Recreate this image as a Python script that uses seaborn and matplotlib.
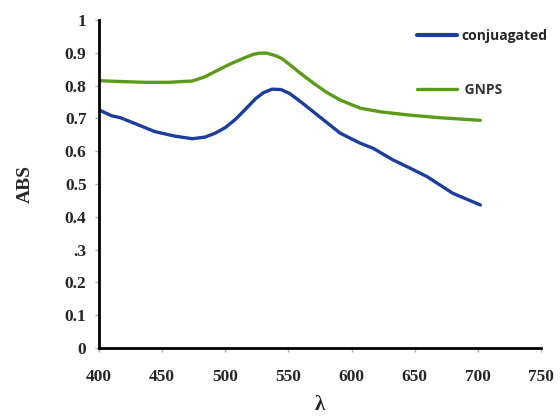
import pandas as pd
import seaborn as sns
import matplotlib.pyplot as plt

# Spectra
wl_conj = [400, 410, 417, 430, 444, 460, 474, 484, 492, 500, 508, 516, 524, 530, 537,
           544, 551, 560, 573, 591, 607, 617, 633, 646, 660, 680, 702]
abs_conj = [0.726, 0.708, 0.702, 0.682, 0.66, 0.646, 0.638, 0.643, 0.655, 0.672, 0.697,
            0.728, 0.76, 0.778, 0.789, 0.788, 0.776, 0.75, 0.71, 0.655, 0.624, 0.609,
            0.573, 0.549, 0.522, 0.472, 0.436]

wl_gnps = [400, 420, 436, 455, 474, 484, 492, 504, 516, 522, 527, 533, 540, 545, 551,
           560, 570, 580, 591, 600, 607, 623, 646, 670, 702]
abs_gnps = [0.815, 0.812, 0.81, 0.81, 0.814, 0.827, 0.843, 0.866, 0.886, 0.895, 0.899,
            0.899, 0.891, 0.882, 0.864, 0.836, 0.807, 0.78, 0.756, 0.742, 0.731, 0.72,
            0.71, 0.702, 0.694]

x_ticks = [400, 450, 500, 550, 600, 650, 700, 750]
y_ticks = [0, 0.1, 0.2, 0.3, 0.4, 0.5, 0.6, 0.7, 0.8, 0.9, 1]
y_ticklabels = ['0', '0.1', '0.2', '.3', '0.4', '0.5', '0.6', '0.7', '0.8', '0.9', '1']

df = pd.concat([
    pd.DataFrame({'wl': wl_conj, 'abs': abs_conj, 'serie': 'conjuagated'}),
    pd.DataFrame({'wl': wl_gnps, 'abs': abs_gnps, 'serie': ' GNPS'}),
])

sns.set_style('ticks')
plt.rcParams['font.family'] = ['Liberation Serif', 'DejaVu Serif']

fig = plt.figure(figsize=(5.6, 4.18), dpi=100)
ax = fig.add_axes([99 / 560, 1 - 348 / 418, 442 / 560, 328 / 418])

sns.lineplot(data=df, x='wl', y='abs', hue='serie', sort=False,
             palette={'conjuagated': '#1c3c9e', ' GNPS': '#5a9c18'},
             linewidth=2.4, ax=ax, legend=False)

ax.set_xlim(400, 750)
ax.set_ylim(0, 1)
ax.set_xticks(x_ticks)
ax.set_yticks(y_ticks)
ax.set_yticklabels(y_ticklabels)
for lbl in ax.get_xticklabels() + ax.get_yticklabels():
    lbl.set_fontweight('bold')
    lbl.set_fontsize(12.5)
ax.tick_params(axis='both', length=3, width=1, color='#b0b0b0')
ax.tick_params(axis='x', pad=12)
ax.tick_params(axis='y', pad=6)

sns.despine(ax=ax)
ax.spines['left'].set_linewidth(2)
ax.spines['bottom'].set_linewidth(2)
ax.spines['left'].set_color('black')
ax.spines['bottom'].set_color('black')

ax.set_xlabel('λ', fontsize=15, fontweight='bold', labelpad=7)
ax.set_ylabel('ABS', fontsize=14, fontweight='bold', labelpad=22)

# legend placed outside the axes, top-right
h1, = ax.plot([], [], color='#1c3c9e', linewidth=3)
h2, = ax.plot([], [], color='#5a9c18', linewidth=2.4)
leg = fig.legend([h1, h2], ['conjuagated', ' GNPS'], loc='upper left',
                 bbox_to_anchor=(404 / 560, 1 - 16 / 418), frameon=False,
                 handlelength=2.9, handletextpad=0.3, labelspacing=2.9,
                 prop={'family': 'Open Sans', 'size': 10, 'weight': 'bold'})
leg.get_texts()[1].set_color('#333333')

fig.savefig('out.png', dpi=100)
